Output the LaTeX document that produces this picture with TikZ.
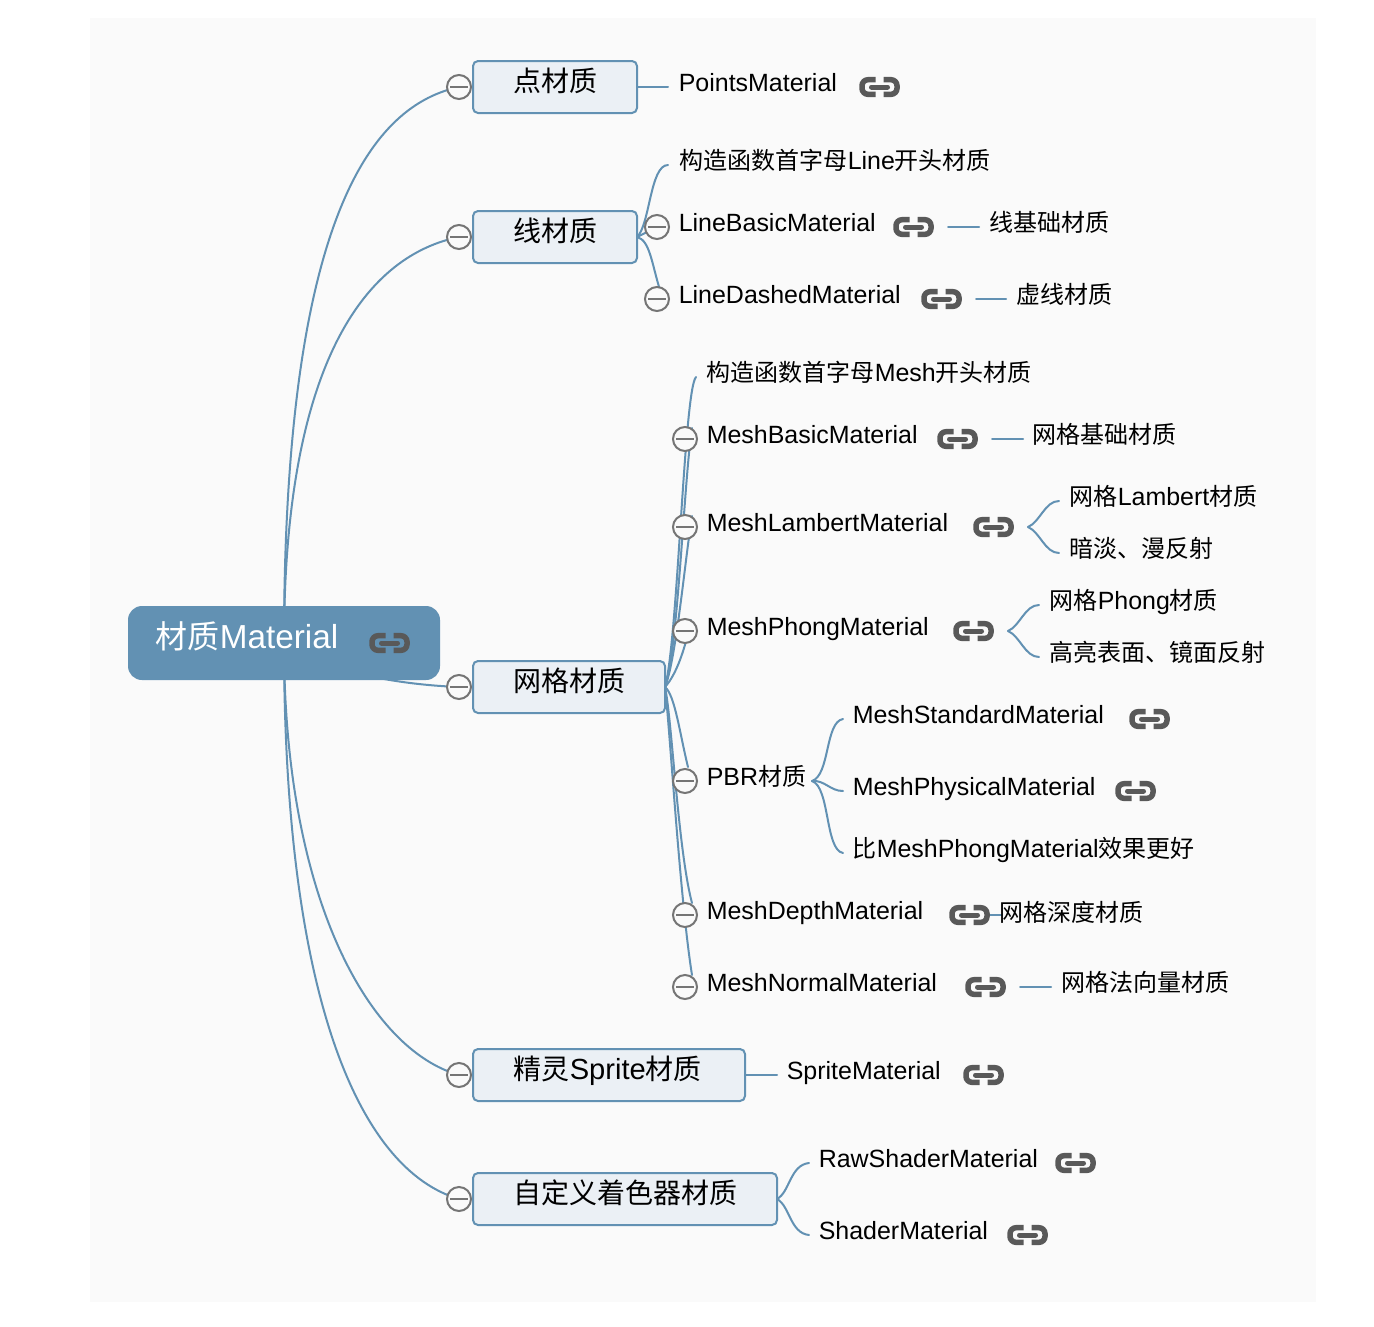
\documentclass[tikz,border=0pt]{standalone}
\usepackage{fontspec}
\setmainfont[Scale=1.04]{Liberation Sans}
\newfontfamily\cjkf{Noto Sans CJK SC}
\newcommand{\zh}[1]{{\cjkf #1}}
\usetikzlibrary{backgrounds}
\definecolor{bgc}{HTML}{FAFAFA}
\definecolor{linec}{HTML}{6291B3}
\definecolor{boxc}{HTML}{EBF0F5}
\definecolor{iconc}{HTML}{595959}
\definecolor{minusc}{HTML}{757575}
\tikzset{
  x=1pt,y=-1pt,
  conn/.style={draw=linec,line width=2pt,line cap=round},
  lab/.style={anchor=base west,inner sep=0pt,font=\fontsize{24}{28}\selectfont,text=black,yshift=-8.5pt,xshift=-0.4pt},
  lone/.style={anchor=base west,inner sep=0pt,font=\fontsize{28}{32}\selectfont,text=black,yshift=-10pt,xshift=-0.4pt},
  boxn/.style={draw=linec,fill=boxc,line width=2pt,rounded corners=5pt,minimum height=52pt,inner sep=0pt,outer sep=0pt,anchor=west},
  rootn/.style={fill=linec,rounded corners=14pt,minimum width=312pt,minimum height=74pt,inner sep=0pt,outer sep=0pt},
  fold/.style={circle,draw=minusc,fill=bgc,line width=2pt,minimum size=24pt,inner sep=0pt,outer sep=0pt,
    path picture={\draw[minusc,line width=2.4pt] (path picture bounding box.center)+(-9,0) -- +(9,0);}},
  linkicon/.pic={
    \draw[iconc,line width=5.5pt,rounded corners=6pt] (-4.5,-7.3) -- (-18,-7.3) -- (-18,7.3) -- (-4.5,7.3);
    \draw[iconc,line width=5.5pt,rounded corners=6pt] (3.5,-7.3) -- (17,-7.3) -- (17,7.3) -- (3.5,7.3);
    \draw[iconc,line width=5pt,line cap=round] (-8.5,0) -- (7.5,0);
  }
}
\begin{document}
\begin{tikzpicture}
\useasboundingbox (0,0) rectangle (1374,1326);

% root and first level
\node[rootn] (root) at (284,643) {};
\node[anchor=base west,inner sep=0pt,font=\fontsize{32}{36}\selectfont,text=white,yshift=-11pt,xshift=-0.4pt] (roott) at (156,637) {\zh{材质}Material};
\pic (iroot) at (390,643) {linkicon};

\node[boxn,minimum width=164pt] (b1) at (473,87) {};
\node[boxn,minimum width=164pt] (b2) at (473,237) {};
\node[boxn,minimum width=192pt] (b3) at (473,687) {};
\node[boxn,minimum width=272pt] (b4) at (473,1075) {};
\node[boxn,minimum width=304pt] (b5) at (473,1199) {};
\node[lone] (t1) at (514,81) {\zh{点材质}};
\node[lone] (t2) at (514,231) {\zh{线材质}};
\node[lone] (t3) at (514,681) {\zh{网格材质}};
\node[lone] (t4) at (514,1069) {\zh{精灵}Sprite\zh{材质}};
\node[lone] (t5) at (514,1193) {\zh{自定义着色器材质}};

\node[fold] (f1) at (459,87) {};
\node[fold] (f2) at (459,237) {};
\node[fold] (f3) at (459,687) {};
\node[fold] (f4) at (459,1075) {};
\node[fold] (f5) at (459,1199) {};

% points
\node[lab] (pm) at (679,83) {PointsMaterial};
\pic (ipm) at (880,87) {linkicon};
\coordinate (pme) at (668,87);

% line
\node[lab] (lh) at (680,161) {\zh{构造函数首字母}Line\zh{开头材质}};
\node[lab] (lb) at (679,223) {LineBasicMaterial};
\node[lab] (ld) at (679,295) {LineDashedMaterial};
\node[lab] (lbz) at (990,223) {\zh{线基础材质}};
\node[lab] (ldz) at (1017,295) {\zh{虚线材质}};
\pic (ilb) at (914,227) {linkicon};
\pic (ild) at (942,299) {linkicon};
\node[fold] (flb) at (657,227) {};
\node[fold] (fld) at (657,299) {};
\coordinate (lhe) at (668,165);
\coordinate (lbs) at (948,227); \coordinate (lbe) at (979,227);
\coordinate (lds) at (976,299); \coordinate (lde) at (1006,299);

% mesh
\node[lab] (mh) at (707,373) {\zh{构造函数首字母}Mesh\zh{开头材质}};
\node[lab] (mb) at (707,435) {MeshBasicMaterial};
\node[lab] (ml) at (707,523) {MeshLambertMaterial};
\node[lab] (mp) at (707,627) {MeshPhongMaterial};
\node[lab] (pbr) at (707,777) {PBR\zh{材质}};
\node[lab] (md) at (707,911) {MeshDepthMaterial};
\node[lab] (mn) at (707,983) {MeshNormalMaterial};
\node[fold] (fmb) at (685,439) {};
\node[fold] (fml) at (685,527) {};
\node[fold] (fmp) at (685,631) {};
\node[fold] (fpb) at (685,781) {};
\node[fold] (fmd) at (685,915) {};
\node[fold] (fmn) at (685,987) {};
\pic (imb) at (958,439) {linkicon};
\pic (iml) at (994,527) {linkicon};
\pic (imp) at (974,631) {linkicon};
\pic (imd) at (970,915) {linkicon};
\pic (imn) at (986,987) {linkicon};
\node[lab] (mbz) at (1033,435) {\zh{网格基础材质}};
\node[lab] (ml1) at (1070,497) {\zh{网格}Lambert\zh{材质}};
\node[lab] (ml2) at (1070,549) {\zh{暗淡、漫反射}};
\node[lab] (mp1) at (1050,601) {\zh{网格}Phong\zh{材质}};
\node[lab] (mp2) at (1050,653) {\zh{高亮表面、镜面反射}};
\node[lab] (mdz) at (1000,913) {\zh{网格深度材质}};
\node[lab] (mnz) at (1062,983) {\zh{网格法向量材质}};
\node[lab] (ps) at (853,715) {MeshStandardMaterial};
\node[lab] (pp) at (853,787) {MeshPhysicalMaterial};
\node[lab] (pc) at (853,849) {\zh{比}MeshPhongMaterial\zh{效果更好}};
\pic (ips) at (1150,719) {linkicon};
\pic (ipp) at (1136,791) {linkicon};

% sprite, shader
\node[lab] (sm) at (787,1071) {SpriteMaterial};
\pic (ism) at (984,1075) {linkicon};
\node[lab] (rs) at (819,1159) {RawShaderMaterial};
\node[lab] (ss) at (819,1231) {ShaderMaterial};
\pic (irs) at (1076,1163) {linkicon};
\pic (iss) at (1028,1235) {linkicon};

% connector ends
\coordinate (b3o) at (665,687);
\coordinate (b2o) at (637,237);
\coordinate (mhe) at (696,377);
\coordinate (mbe) at (692,428);
\coordinate (mle) at (692,516);
\coordinate (mpe) at (691,620);
\coordinate (pbe) at (688,767);
\coordinate (mde) at (692,903);
\coordinate (mne) at (692,975);
\coordinate (mbs) at (992,439); \coordinate (mbt) at (1023,439);
\coordinate (mls) at (1028,527); \coordinate (ml1e) at (1059,501); \coordinate (ml2e) at (1059,553);
\coordinate (mps) at (1008,631); \coordinate (mp1e) at (1039,605); \coordinate (mp2e) at (1039,657);
\coordinate (pbs) at (812,781); \coordinate (pse) at (843,719); \coordinate (ppe) at (843,791); \coordinate (pce) at (843,853);
\coordinate (mds) at (988,915); \coordinate (mdt) at (1002,915);
\coordinate (mns) at (1020,987); \coordinate (mnt) at (1051,987);
\coordinate (sme) at (777,1075);
\coordinate (rse) at (809,1163); \coordinate (sse) at (809,1235);

\begin{pgfonlayer}{background}
\fill[white] (0,0) rectangle (1374,1326);
\fill[bgc] (90,18) rectangle (1316,1302);
\path[conn] (root.center) .. controls (284,210) and (375,105) .. (f1.center);
\path[conn] (root.center) .. controls (284,355) and (370,255) .. (f2.center);
\path[conn] (root.center) .. controls (320,668) and (385,684) .. (f3.center);
\path[conn] (root.center) .. controls (284,900) and (370,1050) .. (f4.center);
\path[conn] (root.center) .. controls (284,1000) and (360,1170) .. (f5.center);
\path[conn] (b1.east) -- (pme);
\path[conn] (b2o) .. controls (650,225) and (650,165) .. (lhe);
\path[conn] (b2o) -- (flb.center);
\path[conn] (b2o) .. controls (650,240) and (652,265) .. (660,290);
\path[conn] (lbs) -- (lbe);
\path[conn] (lds) -- (lde);
\path[conn] (b3o) .. controls (678,640) and (684,390) .. (mhe);
\path[conn] (b3o) .. controls (678,650) and (684,480) .. (mbe);
\path[conn] (b3o) .. controls (676,660) and (685,560) .. (mle);
\path[conn] (b3o) .. controls (676,675) and (685,650) .. (mpe);
\path[conn] (b3o) .. controls (675,695) and (680,735) .. (pbe);
\path[conn] (b3o) .. controls (672,720) and (678,850) .. (mde);
\path[conn] (b3o) .. controls (670,730) and (680,900) .. (mne);
\path[conn] (mbs) -- (mbt);
\path[conn] (mls) .. controls (1040,522) and (1045,501) .. (ml1e);
\path[conn] (mls) .. controls (1040,532) and (1045,553) .. (ml2e);
\path[conn] (mps) .. controls (1020,626) and (1025,605) .. (mp1e);
\path[conn] (mps) .. controls (1020,636) and (1025,657) .. (mp2e);
\path[conn] (pbs) .. controls (830,775) and (825,722) .. (pse);
\path[conn] (pbs) .. controls (825,780) and (830,791) .. (ppe);
\path[conn] (pbs) .. controls (830,787) and (825,850) .. (pce);
\path[conn] (mds) -- (mdt);
\path[conn] (mns) -- (mnt);
\path[conn] (b4.east) -- (sme);
\path[conn] (b5.east) .. controls (790,1192) and (790,1165) .. (rse);
\path[conn] (b5.east) .. controls (790,1206) and (790,1233) .. (sse);
\end{pgfonlayer}
\end{tikzpicture}
\end{document}
